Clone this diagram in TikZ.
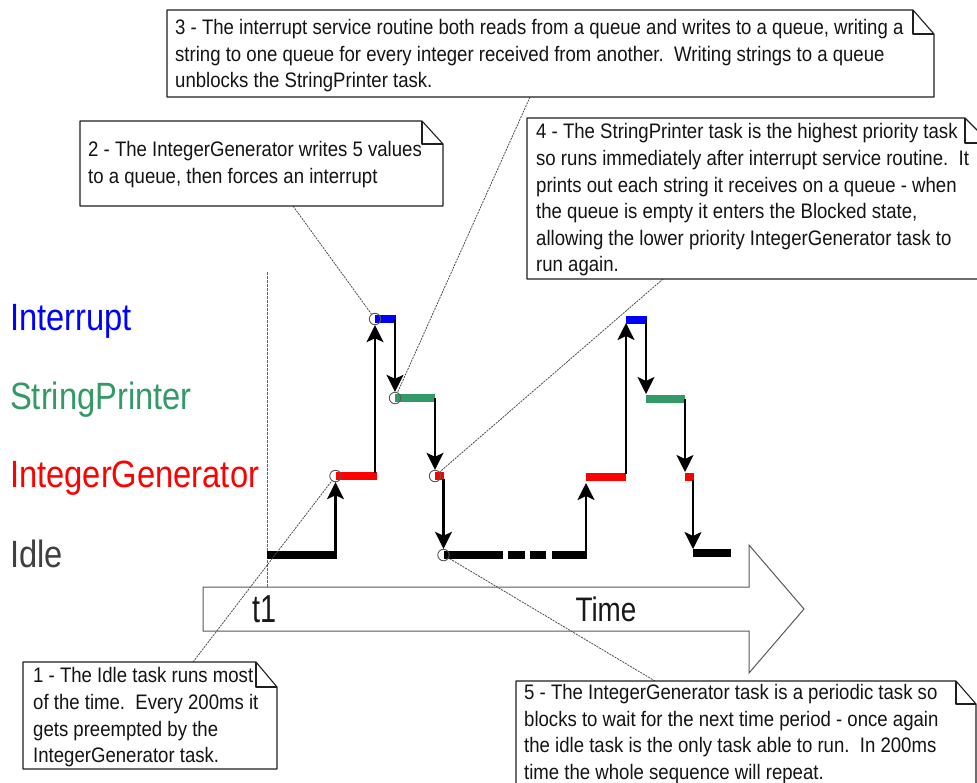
\documentclass[tikz,border=0pt]{standalone}
\usepackage{fontspec}
\setmainfont{Liberation Sans}
\newfontfamily\narrowfont[FakeStretch=0.885]{Liberation Sans}
\newfontfamily\labelfont[FakeStretch=0.86]{Liberation Sans}
\newfontfamily\timefont[FakeStretch=0.82]{Liberation Sans}
\newfontfamily\tonefont[FakeStretch=0.74]{Liberation Sans}
\usetikzlibrary{arrows.meta}
\definecolor{seagreenx}{HTML}{339966}
\definecolor{idlegray}{HTML}{404040}
\tikzset{
  x=1pt,y=-1pt,
  calltext/.style={anchor=north west,inner sep=0pt,align=left,text=black!92,font=\narrowfont\fontsize{21}{26.6}\selectfont},
  notebox/.style={draw=black!88,line width=1.1pt,line join=round},
  leader/.style={draw=black!70,line width=0.8pt,dash pattern=on 2pt off 1pt},
  taskbar/.style={line width=7.8pt,line cap=butt},
  flow/.style={draw=black,line width=2.3pt,-{Stealth[length=17pt,width=17pt,inset=4pt]}},
  pick/.style={circle,draw=black!65,line width=0.9pt,inner sep=0pt,minimum size=11.5pt},
  tasklabel/.style={anchor=base west,inner sep=0pt,font=\labelfont\fontsize{38}{38}\selectfont},
  timearrow/.style={draw=black!65,line width=1pt,line join=miter}
}
\begin{document}
\begin{tikzpicture}
\clip (0,0) rectangle (977,782);
\fill[white] (0,0) rectangle (977,782);

% task labels
\node[tasklabel,text=blue] (lint) at (10,330) {Interrupt};
\node[tasklabel,text=seagreenx] (lstr) at (10,409) {StringPrinter};
\node[tasklabel,text=red] (lgen) at (10,487) {IntegerGenerator};
\node[tasklabel,text=idlegray] (lidl) at (10,567) {Idle};

% time arrow
\draw[timearrow] (203,587) -- (749,587) -- (749,545) -- (804,609) -- (749,673) -- (749,631) -- (203,631) -- cycle;
\node[anchor=base,inner sep=0pt,font=\tonefont\fontsize{39}{39}\selectfont,text=black!90] (tlab) at (265,622) {t1};
\node[anchor=base,inner sep=0pt,font=\timefont\fontsize{34}{34}\selectfont,text=black!90] (timelab) at (606,621) {Time};

% t1 line
\coordinate (tTop) at (267,272);
\coordinate (tBot) at (267,587);
\draw[draw=black!60,line width=0.9pt,dash pattern=on 2.5pt off 1.5pt] (tTop) -- (tBot);

% first pulse bars
\draw[taskbar,black] (267,555) -- (337,555);
\draw[taskbar,red] (335.5,476) -- (377,476);
\draw[taskbar,blue] (375,319) -- (396,319);
\draw[taskbar,seagreenx] (395,398) -- (435,398);
\draw[taskbar,red] (435,476) -- (444,476);
\draw[taskbar,black] (444,555) -- (503,555);
\draw[taskbar,black] (508,555) -- (525,555);
\draw[taskbar,black] (530,555) -- (546,555);
\draw[taskbar,black] (552,555) -- (587,555);

% second pulse bars
\draw[taskbar,red] (586,477) -- (626,477);
\draw[taskbar,blue] (626,320) -- (647,320);
\draw[taskbar,seagreenx] (646,399) -- (685,399);
\draw[taskbar,red] (685,477) -- (694,477);
\draw[taskbar,black] (693,553) -- (731,553);

% picks
\node[pick] (p1) at (335.5,476) {};
\node[pick] (p2) at (375,319) {};
\node[pick] (p3) at (395,398) {};
\node[pick] (p4) at (435,476) {};
\node[pick] (p5) at (443.5,555) {};

% arrow start points
\coordinate (a1) at (335.5,552);
\coordinate (a2) at (375,473);
\coordinate (a3) at (395,319);
\coordinate (a4) at (435,398);
\coordinate (a5) at (443.5,479);
\coordinate (b1) at (586,555);
\coordinate (b1t) at (586,483);
\coordinate (b2) at (626,474);
\coordinate (b2t) at (626,323);
\coordinate (b3) at (646,319);
\coordinate (b3t) at (646,394);
\coordinate (b4) at (685,399);
\coordinate (b4t) at (685,472);
\coordinate (b5) at (693,480);
\coordinate (b5t) at (693,549);

\draw[flow] (a1) -- (p1);
\draw[flow] (a2) -- (p2);
\draw[flow] (a3) -- (p3);
\draw[flow] (a4) -- (p4);
\draw[flow] (a5) -- (p5);
\draw[flow] (b1) -- (b1t);
\draw[flow] (b2) -- (b2t);
\draw[flow] (b3) -- (b3t);
\draw[flow] (b4) -- (b4t);
\draw[flow] (b5) -- (b5t);

% leader attachment points
\coordinate (c1p) at (193,662);
\coordinate (c2p) at (293,206);
\coordinate (c3p) at (530,97);
\coordinate (c4p) at (663,279);
\coordinate (c5p) at (655,681);
\draw[leader] (c1p) -- (p1);
\draw[leader] (c2p) -- (p2);
\draw[leader] (c3p) -- (p3);
\draw[leader] (c4p) -- (p4);
\draw[leader] (c5p) -- (p5);

% notes
\draw[notebox,fill=white] (23,662) -- (256,662) -- (277,687) -- (277,769) -- (23,769) -- cycle;
\draw[notebox] (256,662) -- (256,687) -- (277,687);
\node[calltext] (c1) at (33,667.5) {1 - The Idle task runs most\\of the time.\ \ Every 200ms it\\gets preempted by the\\IntegerGenerator task.};

\draw[notebox,fill=white] (80,121) -- (422,121) -- (443,144) -- (443,206) -- (80,206) -- cycle;
\draw[notebox] (422,121) -- (422,144) -- (443,144);
\node[calltext] (c2) at (88,141) {2 - The IntegerGenerator writes 5 values\\to a queue, then forces an interrupt};

\draw[notebox,fill=white] (167,10) -- (913,10) -- (934,34) -- (934,97) -- (167,97) -- cycle;
\draw[notebox] (913,10) -- (913,34) -- (934,34);
\node[calltext] (c3) at (175,19) {3 - The interrupt service routine both reads from a queue and writes to a queue, writing a\\string to one queue for every integer received from another.\ \ Writing strings to a queue\\unblocks the StringPrinter task.};

\draw[notebox,fill=white] (527,118) -- (965,118) -- (990,143) -- (990,279) -- (527,279) -- cycle;
\draw[notebox] (965,118) -- (965,143) -- (990,143);
\node[calltext] (c4) at (536,123.5) {4 - The StringPrinter task is the highest priority task\\so runs immediately after interrupt service routine.\ \ It\\prints out each string it receives on a queue - when\\the queue is empty it enters the Blocked state,\\allowing the lower priority IntegerGenerator task to\\run again.};

\draw[notebox,fill=white] (516,681) -- (956,681) -- (976,704) -- (976,800) -- (516,800) -- cycle;
\draw[notebox] (956,681) -- (956,704) -- (976,704);
\node[calltext] (c5) at (524,684) {5 - The IntegerGenerator task is a periodic task so\\blocks to wait for the next time period - once again\\the idle task is the only task able to run.\ \ In 200ms\\time the whole sequence will repeat.};
\end{tikzpicture}
\end{document}
